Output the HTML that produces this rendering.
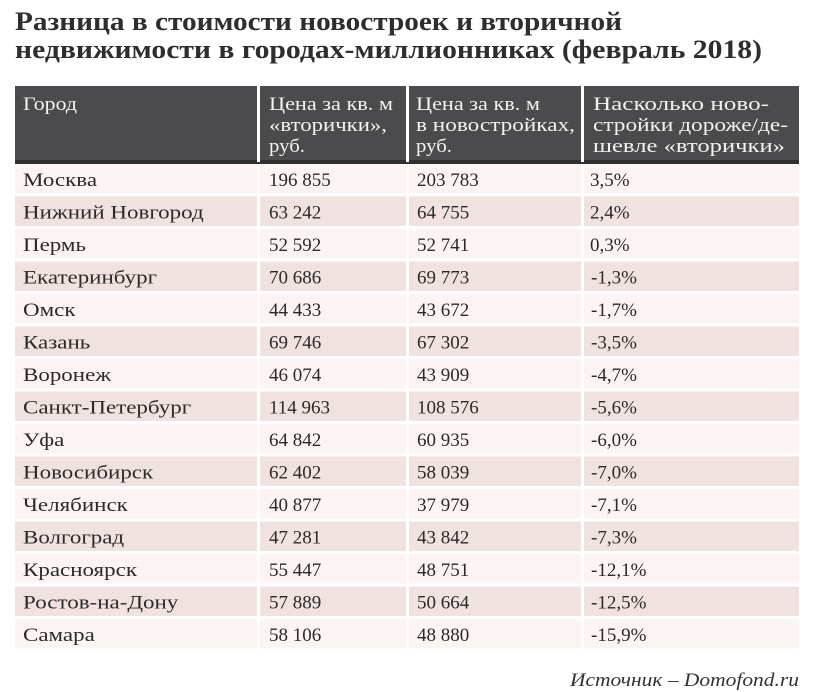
<!DOCTYPE html>
<html><head><meta charset="utf-8"><style>
html,body{margin:0;padding:0;background:#fff;}
svg{display:block;}
text{font-family:"Liberation Serif","DejaVu Serif",serif;}
.t{font-size:26px;font-weight:bold;fill:#2e2e2e;}
.h{font-size:19px;fill:#f2f2f2;}
.c{font-size:19px;fill:#2a2a2a;}
.s{font-size:19px;font-style:italic;fill:#333;}
</style></head><body>
<svg width="816" height="692" viewBox="0 0 816 692" xmlns="http://www.w3.org/2000/svg">
<rect width="816" height="692" fill="#fff"/>
<text class="t" x="15" y="30" textLength="607" lengthAdjust="spacingAndGlyphs">Разница в стоимости новостроек и вторичной</text>
<text class="t" x="15" y="58" textLength="747" lengthAdjust="spacingAndGlyphs">недвижимости в городах-миллионниках (февраль 2018)</text>

<!-- header -->
<rect x="15" y="86" width="784" height="76" fill="#4b4b4d"/>
<rect x="15" y="160" width="784" height="4" fill="#2f2f30"/>
<rect x="257" y="86" width="3" height="76" fill="#fff"/>
<rect x="406" y="86" width="3" height="76" fill="#fff"/>
<rect x="581" y="86" width="3" height="76" fill="#fff"/>
<text class="h" x="23" y="110" textLength="54" lengthAdjust="spacingAndGlyphs">Город</text>
<text class="h" x="269" y="110" textLength="124" lengthAdjust="spacingAndGlyphs">Цена за кв. м</text>
<text class="h" x="269" y="131" textLength="118" lengthAdjust="spacingAndGlyphs">«вторички»,</text>
<text class="h" x="269" y="152" textLength="36" lengthAdjust="spacingAndGlyphs">руб.</text>
<text class="h" x="416" y="110" textLength="124" lengthAdjust="spacingAndGlyphs">Цена за кв. м</text>
<text class="h" x="416" y="131" textLength="159" lengthAdjust="spacingAndGlyphs">в новостройках,</text>
<text class="h" x="416" y="152" textLength="36" lengthAdjust="spacingAndGlyphs">руб.</text>
<text class="h" x="593" y="110" textLength="176" lengthAdjust="spacingAndGlyphs">Насколько ново-</text>
<text class="h" x="593" y="131" textLength="195" lengthAdjust="spacingAndGlyphs">стройки дороже/де-</text>
<text class="h" x="593" y="152" textLength="192" lengthAdjust="spacingAndGlyphs">шевле «вторички»</text>

<g id="rows">
<g fill="#fcf4f2">
<rect x="15" y="164" width="242" height="29.5"/><rect x="260" y="164" width="146" height="29.5"/><rect x="409" y="164" width="172" height="29.5"/><rect x="584" y="164" width="215" height="29.5"/>
<rect x="15" y="229" width="242" height="29.5"/><rect x="260" y="229" width="146" height="29.5"/><rect x="409" y="229" width="172" height="29.5"/><rect x="584" y="229" width="215" height="29.5"/>
<rect x="15" y="294" width="242" height="29.5"/><rect x="260" y="294" width="146" height="29.5"/><rect x="409" y="294" width="172" height="29.5"/><rect x="584" y="294" width="215" height="29.5"/>
<rect x="15" y="359" width="242" height="29.5"/><rect x="260" y="359" width="146" height="29.5"/><rect x="409" y="359" width="172" height="29.5"/><rect x="584" y="359" width="215" height="29.5"/>
<rect x="15" y="424" width="242" height="29.5"/><rect x="260" y="424" width="146" height="29.5"/><rect x="409" y="424" width="172" height="29.5"/><rect x="584" y="424" width="215" height="29.5"/>
<rect x="15" y="489" width="242" height="29.5"/><rect x="260" y="489" width="146" height="29.5"/><rect x="409" y="489" width="172" height="29.5"/><rect x="584" y="489" width="215" height="29.5"/>
<rect x="15" y="554" width="242" height="29.5"/><rect x="260" y="554" width="146" height="29.5"/><rect x="409" y="554" width="172" height="29.5"/><rect x="584" y="554" width="215" height="29.5"/>
<rect x="15" y="619" width="242" height="29.5"/><rect x="260" y="619" width="146" height="29.5"/><rect x="409" y="619" width="172" height="29.5"/><rect x="584" y="619" width="215" height="29.5"/>
</g>
<g fill="#f0e2df">
<rect x="15" y="196.5" width="242" height="29.5"/><rect x="260" y="196.5" width="146" height="29.5"/><rect x="409" y="196.5" width="172" height="29.5"/><rect x="584" y="196.5" width="215" height="29.5"/>
<rect x="15" y="261.5" width="242" height="29.5"/><rect x="260" y="261.5" width="146" height="29.5"/><rect x="409" y="261.5" width="172" height="29.5"/><rect x="584" y="261.5" width="215" height="29.5"/>
<rect x="15" y="326.5" width="242" height="29.5"/><rect x="260" y="326.5" width="146" height="29.5"/><rect x="409" y="326.5" width="172" height="29.5"/><rect x="584" y="326.5" width="215" height="29.5"/>
<rect x="15" y="391.5" width="242" height="29.5"/><rect x="260" y="391.5" width="146" height="29.5"/><rect x="409" y="391.5" width="172" height="29.5"/><rect x="584" y="391.5" width="215" height="29.5"/>
<rect x="15" y="456.5" width="242" height="29.5"/><rect x="260" y="456.5" width="146" height="29.5"/><rect x="409" y="456.5" width="172" height="29.5"/><rect x="584" y="456.5" width="215" height="29.5"/>
<rect x="15" y="521.5" width="242" height="29.5"/><rect x="260" y="521.5" width="146" height="29.5"/><rect x="409" y="521.5" width="172" height="29.5"/><rect x="584" y="521.5" width="215" height="29.5"/>
<rect x="15" y="586.5" width="242" height="29.5"/><rect x="260" y="586.5" width="146" height="29.5"/><rect x="409" y="586.5" width="172" height="29.5"/><rect x="584" y="586.5" width="215" height="29.5"/>
</g>
</g>

<g transform="translate(23,0) scale(1.21,1)">
<text class="c" x="0" y="186">Москва</text>
<text class="c" x="0" y="218.5">Нижний Новгород</text>
<text class="c" x="0" y="251">Пермь</text>
<text class="c" x="0" y="283.5">Екатеринбург</text>
<text class="c" x="0" y="316">Омск</text>
<text class="c" x="0" y="348.5">Казань</text>
<text class="c" x="0" y="381">Воронеж</text>
<text class="c" x="0" y="413.5">Санкт-Петербург</text>
<text class="c" x="0" y="446">Уфа</text>
<text class="c" x="0" y="478.5">Новосибирск</text>
<text class="c" x="0" y="511">Челябинск</text>
<text class="c" x="0" y="543.5">Волгоград</text>
<text class="c" x="0" y="576">Красноярск</text>
<text class="c" x="0" y="608.5">Ростов-на-Дону</text>
<text class="c" x="0" y="641">Самара</text>
</g>

<g>
<text class="c" x="269" y="186">196 855</text><text class="c" x="417" y="186">203 783</text><text class="c" x="590" y="186">3,5%</text>
<text class="c" x="269" y="218.5">63 242</text><text class="c" x="417" y="218.5">64 755</text><text class="c" x="590" y="218.5">2,4%</text>
<text class="c" x="269" y="251">52 592</text><text class="c" x="417" y="251">52 741</text><text class="c" x="590" y="251">0,3%</text>
<text class="c" x="269" y="283.5">70 686</text><text class="c" x="417" y="283.5">69 773</text><text class="c" x="591" y="283.5">-1,3%</text>
<text class="c" x="269" y="316">44 433</text><text class="c" x="417" y="316">43 672</text><text class="c" x="591" y="316">-1,7%</text>
<text class="c" x="269" y="348.5">69 746</text><text class="c" x="417" y="348.5">67 302</text><text class="c" x="591" y="348.5">-3,5%</text>
<text class="c" x="269" y="381">46 074</text><text class="c" x="417" y="381">43 909</text><text class="c" x="591" y="381">-4,7%</text>
<text class="c" x="269" y="413.5">114 963</text><text class="c" x="417" y="413.5">108 576</text><text class="c" x="591" y="413.5">-5,6%</text>
<text class="c" x="269" y="446">64 842</text><text class="c" x="417" y="446">60 935</text><text class="c" x="591" y="446">-6,0%</text>
<text class="c" x="269" y="478.5">62 402</text><text class="c" x="417" y="478.5">58 039</text><text class="c" x="591" y="478.5">-7,0%</text>
<text class="c" x="269" y="511">40 877</text><text class="c" x="417" y="511">37 979</text><text class="c" x="591" y="511">-7,1%</text>
<text class="c" x="269" y="543.5">47 281</text><text class="c" x="417" y="543.5">43 842</text><text class="c" x="591" y="543.5">-7,3%</text>
<text class="c" x="269" y="576">55 447</text><text class="c" x="417" y="576">48 751</text><text class="c" x="591" y="576">-12,1%</text>
<text class="c" x="269" y="608.5">57 889</text><text class="c" x="417" y="608.5">50 664</text><text class="c" x="591" y="608.5">-12,5%</text>
<text class="c" x="269" y="641">58 106</text><text class="c" x="417" y="641">48 880</text><text class="c" x="591" y="641">-15,9%</text>
</g>

<text class="s" x="570" y="686" textLength="229" lengthAdjust="spacingAndGlyphs">Источник – Domofond.ru</text>
</svg>
</body></html>
